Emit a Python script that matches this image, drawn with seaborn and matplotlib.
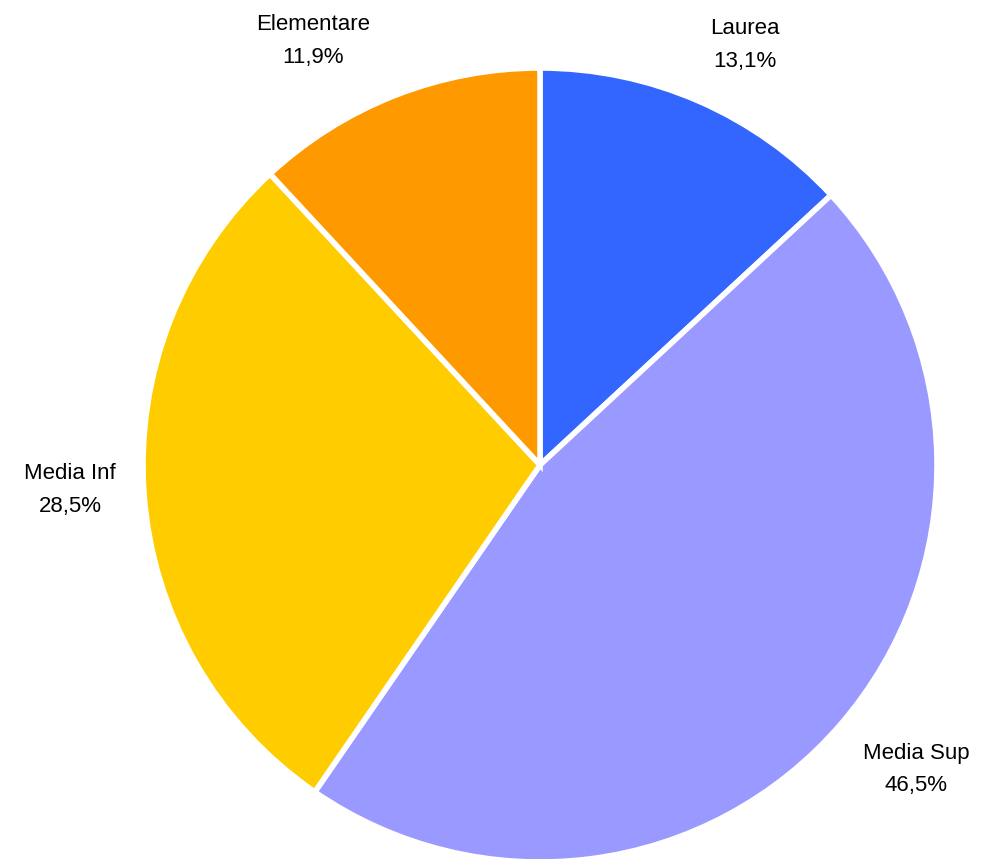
import matplotlib
matplotlib.use("Agg")
import matplotlib.pyplot as plt
import seaborn as sns

# Data
categories = ["Laurea", "Media Sup", "Media Inf", "Elementare"]
shares = [13.1, 46.5, 28.5, 11.9]
colors = ["#3366FF", "#9999FF", "#FFCC00", "#FF9900"]

# label anchor points (in pie radius units), like the spreadsheet layout
label_pos = [(0.516, 1.058), (0.947, -0.768), (-1.184, -0.063), (-0.572, 1.068)]

sns.set_theme(style="white")
plt.rcParams['font.family'] = ['Liberation Sans', 'DejaVu Sans']

fig = plt.figure(figsize=(9.87, 8.59), dpi=100)
# axes placed so the pie centre sits at ~(540, 465) px with radius ~397 px
ax = fig.add_axes([143 / 987, -3 / 859, 794 / 987, 794 / 859])

labels = [f"{c}\n{str(v).replace('.', ',')}%" for c, v in zip(categories, shares)]

wedges, texts = ax.pie(shares, labels=labels, colors=colors, startangle=90,
                       counterclock=False, labeldistance=1.2, radius=1.0,
                       wedgeprops=dict(edgecolor="white", linewidth=4),
                       textprops=dict(ha="center", va="center", fontsize=16,
                                      color="black", linespacing=1.7))
for t, pos in zip(texts, label_pos):
    t.set_position(pos)

ax.set_xlim(-1, 1)
ax.set_ylim(-1, 1)
ax.set_aspect("equal")
ax.axis("off")

fig.savefig("out.png", dpi=100)
